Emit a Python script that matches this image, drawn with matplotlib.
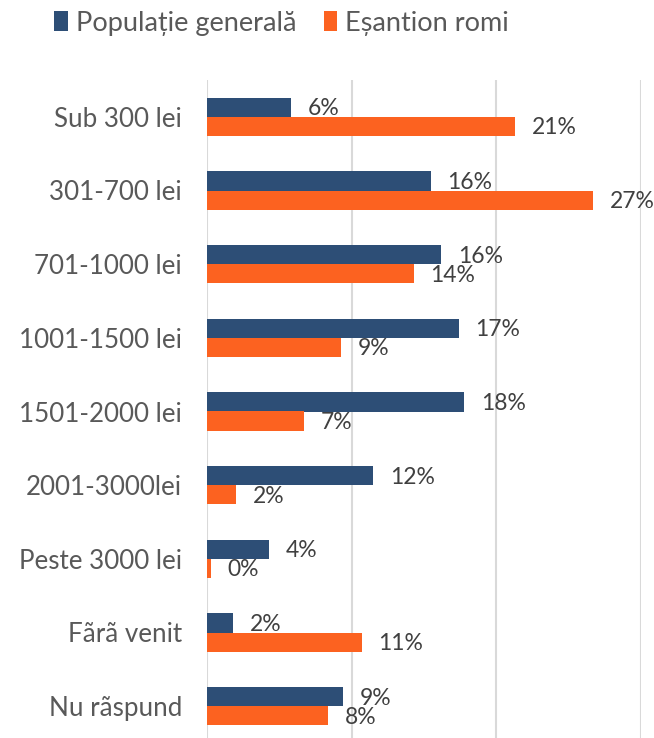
import matplotlib
matplotlib.use("Agg")
import matplotlib.pyplot as plt
import numpy as np

plt.rcParams.update({"font.family": ["Lato", "DejaVu Sans"]})

categories = ["Sub 300 lei", "301-700 lei", "701-1000 lei", "1001-1500 lei",
              "1501-2000 lei", "2001-3000lei", "Peste 3000 lei", "Fãrã venit",
              "Nu rãspund"]
populatie = [5.8, 15.5, 16.2, 17.4, 17.8, 11.5, 4.3, 1.8, 9.4]
romi = [21.3, 26.7, 14.3, 9.3, 6.7, 2.0, 0.25, 10.7, 8.4]
pop_labels = ["6%", "16%", "16%", "17%", "18%", "12%", "4%", "2%", "9%"]
romi_labels = ["21%", "27%", "14%", "9%", "7%", "2%", "0%", "11%", "8%"]

BLUE, ORANGE = "#2d4e76", "#fc6220"
W, H = 654, 738

fig = plt.figure(figsize=(W / 100, H / 100), dpi=100)
ax = fig.add_axes([207 / W, 1 - 743 / H, (640.7 - 207) / W, (743 - 80) / H])

y = np.arange(len(categories))
h = 0.258
b1 = ax.barh(y - h / 2, populatie, height=h, color=BLUE, label="Populație generală")
b2 = ax.barh(y + h / 2, romi, height=h, color=ORANGE, label="Eșantion romi")

# value labels: ~17 px to the right of the bar end
px = 30 / (640.7 - 207)
for yi, v, t in zip(y, populatie, pop_labels):
    ax.text(v + 16.5 * px, yi - h / 2 + 0.02, t, va="center", ha="left",
            fontsize=16.5, color="#404040")
for yi, v, t in zip(y, romi, romi_labels):
    ax.text(v + 16.5 * px, yi + h / 2 + 0.02, t, va="center", ha="left",
            fontsize=16.5, color="#404040")

ax.set_xlim(0, 30)
ax.set_ylim(len(categories) - 0.5, -0.5)
ax.set_xticks([0, 10, 20, 30])
ax.set_xticklabels([])
ax.grid(axis="x", color="#d9d9d9", lw=1.5)
ax.set_axisbelow(True)
ax.set_yticks(y)
ax.set_yticklabels(categories, fontsize=18.7, color="#595959")
ax.tick_params(length=0, pad=18)
for s in ax.spines.values():
    s.set_visible(False)

fig.legend(handles=[b1, b2], loc="center left", bbox_to_anchor=(30 / W, 1 - 23 / H),
           ncol=2, frameon=False, fontsize=19.5, labelcolor="#595959",
           handlelength=0.5, handleheight=0.75, handletextpad=0.3,
           columnspacing=1.0)

fig.savefig("out.png", dpi=100, facecolor="white")
